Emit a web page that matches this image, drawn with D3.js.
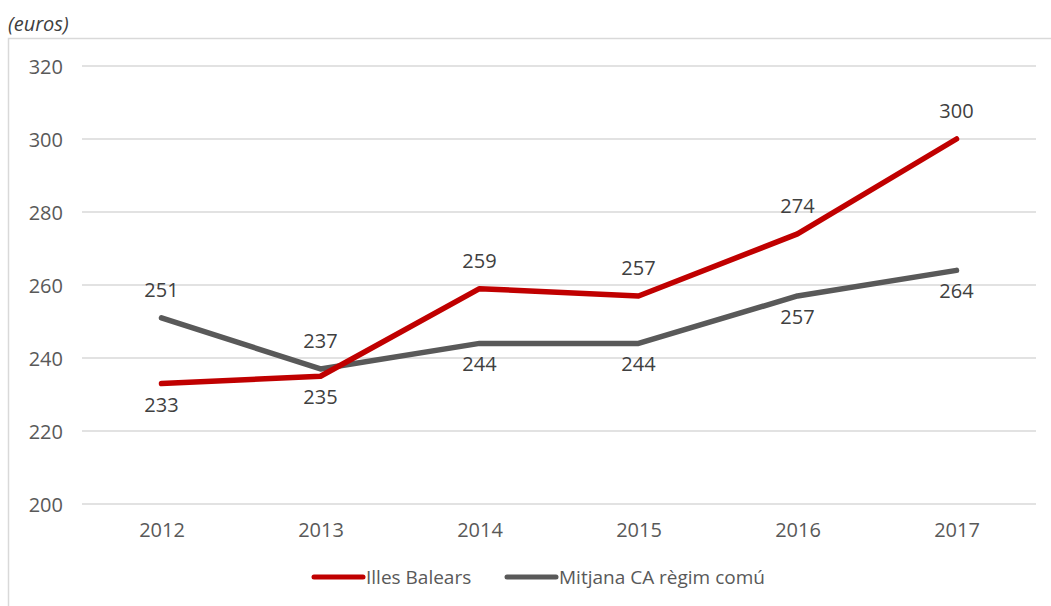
<!DOCTYPE html>
<html><head><meta charset="utf-8">
<script src="https://cdn.jsdelivr.net/npm/d3@7"></script>
<style>body{margin:0;background:#fff;}svg{display:block;font-family:"Open Sans",sans-serif;}</style>
</head><body>
<svg id="c" width="1051" height="606"></svg>
<script>
const years = ["2012","2013","2014","2015","2016","2017"];
const illesBalears = [233, 235, 259, 257, 274, 300];
const mitjanaCA = [251, 237, 244, 244, 257, 264];
const yTicks = [200, 220, 240, 260, 280, 300, 320];
const ibLabelPos = ["below","below","above","above","above","above"];
const caLabelPos = ["above","above","below","below","below","below"];
const seriesNames = ["Illes Balears", "Mitjana CA règim comú"];

(function () {
const svg = d3.select("#c");
const plotLeft = 82, plotRight = 1036, plotTop = 66, plotBottom = 504;
const textColor = "#595959";
const fs = 20;

svg.append("rect").attr("x", 8.5).attr("y", 38.5).attr("width", 1060).attr("height", 600)
  .attr("fill", "none").attr("stroke", "#d9d9d9").attr("stroke-width", 1.5);

svg.append("text").attr("x", 8).attr("y", 24).attr("dy", "0.35em").attr("font-size", 20).attr("font-style", "italic")
  .attr("fill", "#404040").text("(euros)");

const x = d3.scalePoint().domain(years).range([plotLeft, plotRight]).padding(0.5);
const y = d3.scaleLinear().domain([200, 320]).range([plotBottom, plotTop]);

svg.append("g").selectAll("line").data(yTicks).join("line")
  .attr("x1", plotLeft).attr("x2", plotRight)
  .attr("y1", d => y(d)).attr("y2", d => y(d))
  .attr("stroke", "#d9d9d9").attr("stroke-width", 1.5);

const yAxis = svg.append("g").attr("transform", `translate(${plotLeft - 19},0)`)
  .call(d3.axisLeft(y).tickValues(yTicks).tickSize(0).tickPadding(0));
yAxis.select(".domain").remove();
yAxis.selectAll("text").attr("font-size", fs).attr("fill", textColor)
  .attr("font-family", "Open Sans, sans-serif").attr("dy", "0.35em");

const xAxis = svg.append("g").attr("transform", `translate(0,${plotBottom})`)
  .call(d3.axisBottom(x).tickSize(0).tickPadding(0));
xAxis.select(".domain").remove();
xAxis.selectAll("text").attr("font-size", fs).attr("fill", textColor)
  .attr("font-family", "Open Sans, sans-serif").attr("y", 26).attr("dy", "0.35em");

const line = d3.line().x((d, i) => x(years[i])).y(d => y(d));

const series = [
  {name: seriesNames[0], values: illesBalears, color: "#c00000", pos: ibLabelPos},
  {name: seriesNames[1], values: mitjanaCA, color: "#595959", pos: caLabelPos}
];

series.slice().reverse().forEach(s => {
  svg.append("path").datum(s.values).attr("d", line)
    .attr("fill", "none").attr("stroke", s.color).attr("stroke-width", 5.5)
    .attr("stroke-linecap", "round").attr("stroke-linejoin", "round");
});

series.forEach(s => {
  svg.append("g").selectAll("text").data(s.values).join("text")
    .attr("x", (d, i) => x(years[i]))
    .attr("y", (d, i) => y(d) + (s.pos[i] === "above" ? -28 : 21))
    .attr("dy", "0.35em").attr("text-anchor", "middle")
    .attr("font-size", fs).attr("fill", "#404040").text(d => d);
});

const legend = svg.append("g").attr("transform", "translate(0,577)");
const legItems = [{x: 312, s: series[0]}, {x: 505, s: series[1]}];
legItems.forEach(it => {
  legend.append("line").attr("x1", it.x + 2).attr("x2", it.x + 51).attr("y1", 0).attr("y2", 0)
    .attr("stroke", it.s.color).attr("stroke-width", 5).attr("stroke-linecap", "round");
  legend.append("text").attr("x", it.x + 54).attr("y", 0).attr("dy", "0.35em")
    .attr("font-size", 19).attr("fill", textColor).text(it.s.name);
});
})();
</script>
</body></html>
